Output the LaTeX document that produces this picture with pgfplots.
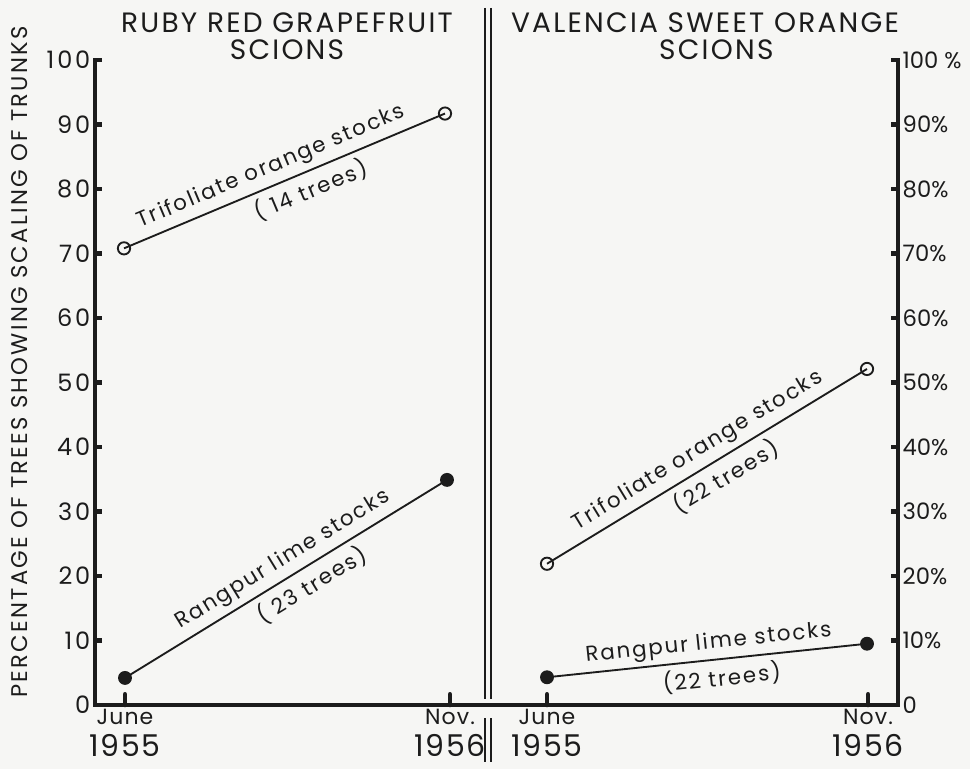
\documentclass[border=0pt]{standalone}
\usepackage{fontspec}
\setmainfont{Poppins}
\newfontfamily\spaceda{Poppins}[LetterSpace=9]
\newfontfamily\spacedb{Poppins}[LetterSpace=8]
\newfontfamily\spacedc{Poppins}[LetterSpace=10]
\newfontfamily\spacedd{Poppins}[LetterSpace=5]
\newfontfamily\spacede{Poppins}[LetterSpace=12]
\usepackage{pgfplots}
\pgfplotsset{compat=1.18}
\definecolor{paper}{RGB}{246,246,244}
\definecolor{ink}{RGB}{28,28,28}
\newcommand{\anno}{\spaceda\fontsize{16}{16}\selectfont}
\newcommand{\mon}{\spacedd\fontsize{16.5}{17}\selectfont}
\newcommand{\yr}{\spacedd\fontsize{22.5}{26}\selectfont}
\begin{document}
\begin{tikzpicture}
\fill[paper] (0,0) rectangle (727.5pt,576.75pt);
\begin{axis}[
  x=0.75pt, y=4.8375pt,
  xmin=95, xmax=898, ymin=0, ymax=100,
  anchor=south west, at={(71.25pt,48pt)},
  axis x line=bottom, axis y line=left,
  axis line style={-, line width=3pt, ink, line cap=rect},
  tick align=inside,
  major tick length=5pt,
  /pgf/number format/assume math mode=true,
  ytick={0,10,...,100},
  ytick style={line width=3.5pt, ink},
  xtick={125,450,547,868},
  xtick style={line width=3.5pt, ink, line cap=round, /pgfplots/major tick length=8pt},
  xticklabels={{{\mon June}\\[6pt]{\yr 1955}},
               {{\mon Nov.}\\[6pt]{\yr 1956}},
               {{\mon June}\\[6pt]{\yr 1955}},
               {{\mon Nov.}\\[6pt]{\yr 1956}}},
  xticklabel style={align=center, text=ink, inner sep=1pt, yshift=-2pt},
  yticklabel style={font=\spacede\fontsize{18}{18}\selectfont, text=ink},
  clip=false,
]
% Ruby Red grapefruit scions
\addplot[ink, line width=1.4pt, mark=o, mark size=4.6pt, mark options={line width=1.4pt, fill=white}]
  coordinates {(124,70.8) (445,91.7)}
  node[pos=0.48, sloped, above=1pt, text=ink, font=\anno] {Trifoliate orange stocks}
  node[pos=0.56, sloped, below=1pt, text=ink, font=\anno] {( 14 trees)};
\addplot[ink, line width=1.4pt, mark=*, mark size=4.5pt, mark options={fill=ink}]
  coordinates {(125,4.2) (447,34.9)}
  node[pos=0.52, sloped, above=1pt, text=ink, font=\anno] {Rangpur lime stocks}
  node[pos=0.55, sloped, below=1pt, text=ink, font=\anno] {( 23 trees)};
% Valencia sweet orange scions
\addplot[ink, line width=1.4pt, mark=o, mark size=4.6pt, mark options={line width=1.4pt, fill=white}]
  coordinates {(547,21.9) (867,52.1)}
  node[pos=0.5, sloped, above=1pt, text=ink, font=\anno] {Trifoliate orange stocks}
  node[pos=0.53, sloped, below=1pt, text=ink, font=\anno] {(22 trees)};
\addplot[ink, line width=1.4pt, mark=*, mark size=4.5pt, mark options={fill=ink}]
  coordinates {(547,4.3) (867,9.5)}
  node[pos=0.51, sloped, above=0pt, text=ink, font=\anno] {Rangpur lime stocks}
  node[pos=0.54, sloped, below=1pt, text=ink, font=\anno] {(22 trees)};
\end{axis}
\begin{axis}[
  x=0.75pt, y=4.8375pt,
  xmin=95, xmax=898, ymin=0, ymax=100,
  anchor=south west, at={(71.25pt,48pt)},
  axis x line=none, axis y line=right,
  axis line style={-, line width=3pt, ink, line cap=rect},
  tick align=inside,
  major tick length=5pt,
  ytick={0,10,...,100},
  yticklabels={0,10\%,20\%,30\%,40\%,50\%,60\%,70\%,80\%,90\%,100 \%},
  ytick style={line width=3.5pt, ink},
  yticklabel style={font=\fontsize{17}{17}\selectfont, text=ink},
]
\end{axis}
\begin{scope}[x=0.75pt, y=-0.75pt, shift={(0,576.75pt)}]
  \draw[ink, line width=1.1pt] (485,8) -- (485,699) (491,8) -- (491,699);
  \draw[ink, line width=1.1pt] (485,718) -- (485,762) (491,718) -- (491,762);
  \node[text=ink, font=\spacedb\fontsize{21}{20}\selectfont, align=center] at (287,36)
    {RUBY RED GRAPEFRUIT\\SCIONS};
  \node[text=ink, font=\spacedb\fontsize{21}{20}\selectfont, align=center] at (705,36)
    {VALENCIA SWEET ORANGE\\\hspace*{17pt}SCIONS};
  \node[text=ink, font=\spacedc\fontsize{17}{17}\selectfont, rotate=90] at (20,362)
    {PERCENTAGE OF TREES SHOWING SCALING OF TRUNKS};
\end{scope}
\pgfresetboundingbox
\path[use as bounding box] (0,0) rectangle (727.5pt,576.75pt);
\end{tikzpicture}
\end{document}
